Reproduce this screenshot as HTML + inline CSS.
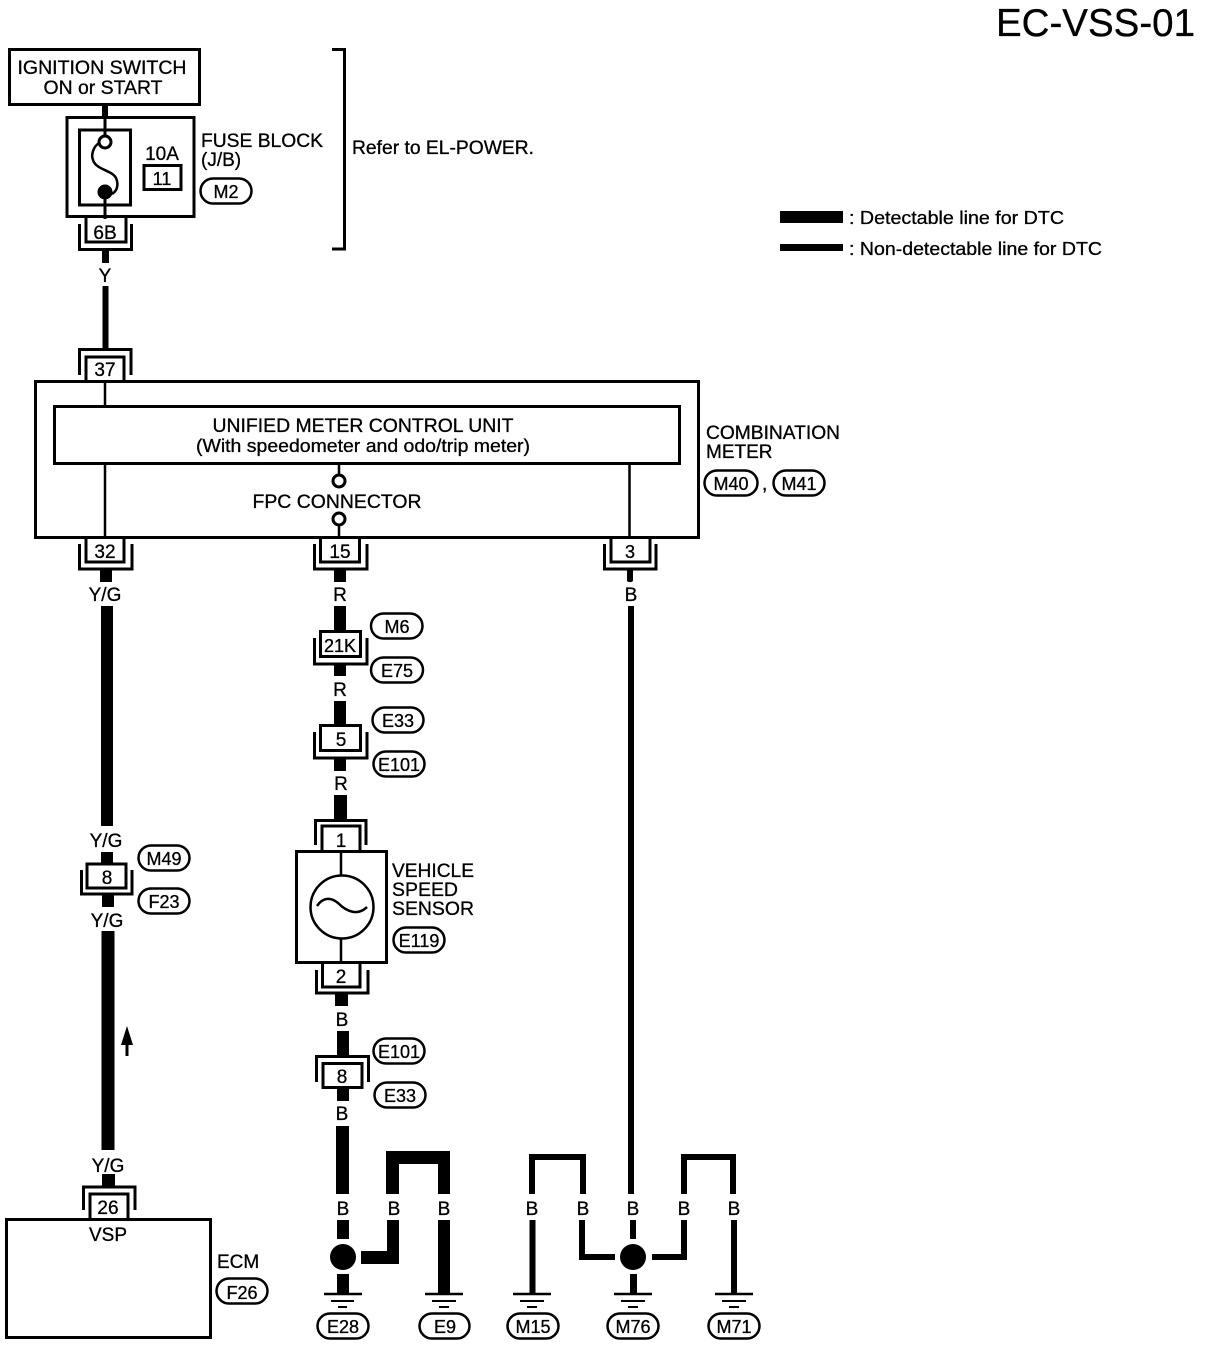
<!DOCTYPE html>
<html>
<head>
<meta charset="utf-8">
<style>
html,body{margin:0;padding:0;background:#fff;}
svg{display:block;}
text{font-family:"Liberation Sans",sans-serif;font-size:19px;fill:#000;stroke:#000;stroke-width:.3px;}
.m{text-anchor:middle;}
.s{font-size:18px;}
.b{fill:none;stroke:#000;stroke-width:3;}
.t{fill:none;stroke:#000;stroke-width:2.5;}
.w{fill:#fff;stroke:#000;stroke-width:3;}
.p{fill:#fff;stroke:#000;stroke-width:2.5;}
</style>
</head>
<body>
<svg width="1216" height="1346" viewBox="0 0 1216 1346" xmlns="http://www.w3.org/2000/svg">
<text x="996" y="36" style="font-size:38.5px" textLength="199" lengthAdjust="spacingAndGlyphs">EC-VSS-01</text>

<!-- Ignition -->
<rect class="b" x="9.5" y="49.5" width="190" height="55"/>
<text x="102" y="74" class="m" textLength="169" lengthAdjust="spacingAndGlyphs">IGNITION SWITCH</text>
<text x="103" y="94" class="m" textLength="119" lengthAdjust="spacingAndGlyphs">ON or START</text>
<rect x="102" y="104" width="6" height="14"/>
<rect x="103.500" y="118" width="3" height="18"/>

<!-- Fuse block -->
<rect class="b" x="67" y="117.500" width="127" height="99"/>
<rect class="b" x="79.500" y="130" width="51" height="75"/>
<circle class="w" cx="105" cy="142" r="6"/>
<circle cx="105" cy="192" r="7.500"/>
<path class="t" d="M99 143C93 147 91 155 93 160C96 170 112 170 116 178C119 185 117 191 112 194"/>
<rect x="103.500" y="199" width="3" height="20"/>
<text x="162" y="160" class="m">10A</text>
<rect class="b" x="144" y="165.500" width="37" height="24"/>
<text x="162" y="185" class="m s">11</text>
<text x="201" y="147" textLength="122" lengthAdjust="spacingAndGlyphs">FUSE BLOCK</text>
<text x="201" y="166">(J/B)</text>
<rect class="p" x="200.500" y="178.500" width="51" height="25" rx="12.500"/>
<text x="226" y="198" class="m s">M2</text>

<!-- Bracket -->
<path class="b" d="M332 49.500H344.500V249H332"/>
<text x="352" y="154" textLength="182" lengthAdjust="spacingAndGlyphs">Refer to EL-POWER.</text>

<!-- 6B -->
<path class="b" d="M86 217V242H126V217"/>
<path class="b" d="M79.500 224V249.500H131.500V224"/>
<text x="105" y="239" class="m">6B</text>
<rect x="102" y="250" width="7" height="13"/>
<text x="105" y="282" class="m">Y</text>
<rect x="102.500" y="286" width="6" height="64"/>

<!-- 37 -->
<path class="b" d="M79.500 375V349.500H131V375"/>
<path class="b" d="M86 381V357H124V381"/>
<text x="105" y="376" class="m">37</text>

<!-- Combination meter -->
<rect class="b" x="35.500" y="381.500" width="663" height="156"/>
<rect class="w" x="54.500" y="406.500" width="625" height="57"/>
<path class="t" d="M105 382V406M105 464V537M629.500 464V537M339 464V475M339 525V537"/>
<circle class="w" cx="339" cy="481" r="6"/>
<circle class="w" cx="339" cy="519" r="6"/>
<text x="363" y="432" class="m" textLength="301" lengthAdjust="spacingAndGlyphs">UNIFIED METER CONTROL UNIT</text>
<text x="363" y="452" class="m s" textLength="334" lengthAdjust="spacingAndGlyphs">(With speedometer and odo/trip meter)</text>
<text x="337" y="508" class="m" textLength="169" lengthAdjust="spacingAndGlyphs">FPC CONNECTOR</text>
<text x="706" y="439" textLength="134" lengthAdjust="spacingAndGlyphs">COMBINATION</text>
<text x="706" y="458">METER</text>
<rect class="p" x="704.500" y="470.500" width="53" height="25" rx="12.500"/>
<text x="731" y="490" class="m s">M40</text>
<text x="762" y="490">,</text>
<rect class="p" x="773.500" y="470.500" width="51" height="25" rx="12.500"/>
<text x="799" y="490" class="m s">M41</text>

<!-- Legend -->
<rect x="780" y="211" width="63" height="12"/>
<text x="849" y="224" class="s" textLength="215" lengthAdjust="spacingAndGlyphs">: Detectable line for DTC</text>
<rect x="780" y="244" width="63" height="7"/>
<text x="849" y="255" class="s" textLength="253" lengthAdjust="spacingAndGlyphs">: Non-detectable line for DTC</text>

<!-- 32 -->
<path class="b" d="M86 538V562H124V538"/>
<path class="b" d="M79.500 544V569H132V544"/>
<text x="105" y="558" class="m">32</text>
<rect x="100" y="569" width="12" height="13"/>
<text x="105" y="601" class="m">Y/G</text>
<rect x="101" y="606" width="12" height="220"/>
<text x="106" y="847" class="m">Y/G</text>
<rect x="101" y="852" width="12" height="12"/>
<path class="b" d="M87 888V864H126V888Z"/>
<path class="b" d="M81.500 870V894H132V870"/>
<text x="107" y="884" class="m">8</text>
<rect x="102" y="895" width="12" height="12"/>
<text x="107" y="927" class="m">Y/G</text>
<rect x="101.500" y="931" width="13" height="219"/>
<path d="M127 1026L133 1045H128.500V1056H125.500V1045H121Z"/>
<text x="108" y="1172" class="m">Y/G</text>
<rect x="102" y="1174" width="13" height="13"/>
<path class="b" d="M83.500 1210V1187H135V1210"/>
<path class="b" d="M90 1219V1194H128V1219"/>
<text x="108" y="1214" class="m">26</text>
<rect class="p" x="138.500" y="845.500" width="51" height="25" rx="12.500"/>
<text x="164" y="865" class="m s">M49</text>
<rect class="p" x="138.500" y="888.500" width="51" height="25" rx="12.500"/>
<text x="164" y="908" class="m s">F23</text>

<!-- ECM -->
<rect class="b" x="6.500" y="1219.500" width="204" height="118"/>
<text x="108" y="1241" class="m">VSP</text>
<text x="217" y="1268">ECM</text>
<rect class="p" x="216.500" y="1278.500" width="51" height="25" rx="12.500"/>
<text x="242" y="1299" class="m s">F26</text>

<!-- 15 -->
<path class="b" d="M320.500 538V562H359.500V538"/>
<path class="b" d="M314.500 544V569H367V544"/>
<text x="340" y="558" class="m">15</text>
<rect x="334" y="569" width="12" height="13"/>
<text x="340" y="601" class="m">R</text>
<rect x="334" y="606" width="12" height="25"/>
<rect class="w" x="320.500" y="631.500" width="40" height="25"/>
<path class="b" d="M314.500 638V664H367V638"/>
<text x="340" y="652" class="m s">21K</text>
<rect x="334" y="664" width="12" height="12"/>
<text x="340" y="696" class="m">R</text>
<rect x="334" y="701" width="12" height="25"/>
<rect class="w" x="320.500" y="725.500" width="40" height="25"/>
<path class="b" d="M314.500 732V758H367V732"/>
<text x="341" y="746" class="m">5</text>
<rect x="334" y="758" width="12" height="13"/>
<text x="341" y="790" class="m">R</text>
<rect x="334" y="795" width="13" height="26"/>
<rect class="p" x="371" y="613.500" width="51.500" height="25" rx="12.500"/>
<text x="397" y="633" class="m s">M6</text>
<rect class="p" x="371" y="657.500" width="52" height="25" rx="12.500"/>
<text x="397" y="677" class="m s">E75</text>
<rect class="p" x="372.500" y="707.500" width="51" height="25" rx="12.500"/>
<text x="398" y="727" class="m s">E33</text>
<rect class="p" x="373.500" y="751.500" width="51" height="25" rx="12.500"/>
<text x="399" y="771" class="m s">E101</text>

<!-- Sensor -->
<path class="b" d="M315.500 845V820.500H366V845"/>
<path class="b" d="M322 851V826H360V851"/>
<text x="341" y="847" class="m">1</text>
<rect class="b" x="296.500" y="851.500" width="90" height="111"/>
<path class="t" d="M341 852V875M341 938V962"/>
<circle class="t" cx="342" cy="907" r="31.500"/>
<path class="t" d="M317 906C323 897 331 897 338 903C347 912 358 916 367 907"/>
<text x="392" y="877" textLength="82" lengthAdjust="spacingAndGlyphs">VEHICLE</text>
<text x="392" y="896" textLength="66" lengthAdjust="spacingAndGlyphs">SPEED</text>
<text x="392" y="915" textLength="82" lengthAdjust="spacingAndGlyphs">SENSOR</text>
<rect class="p" x="393.500" y="927.500" width="51" height="25" rx="12.500"/>
<text x="419" y="947" class="m s">E119</text>
<path class="b" d="M322.500 963V987H360V963"/>
<path class="b" d="M316.500 970V993H368V970"/>
<text x="341" y="983" class="m">2</text>
<rect x="335" y="993" width="13" height="13"/>
<text x="342" y="1026" class="m">B</text>
<rect x="337" y="1031" width="12" height="26"/>
<path class="b" d="M316.500 1082V1056.500H368.500V1082"/>
<rect class="w" x="323" y="1063.500" width="39" height="24"/>
<text x="342" y="1083" class="m">8</text>
<rect x="337" y="1088" width="12" height="13"/>
<text x="342" y="1120" class="m">B</text>
<rect x="336" y="1126" width="13" height="68"/>
<rect class="p" x="373.500" y="1038.500" width="51" height="25" rx="12.500"/>
<text x="399" y="1058" class="m s">E101</text>
<rect class="p" x="374.500" y="1082.500" width="51" height="25" rx="12.500"/>
<text x="400" y="1102" class="m s">E33</text>

<!-- Ground thick group -->
<text x="343" y="1215" class="m">B</text>
<rect x="337" y="1220" width="12" height="19"/>
<circle cx="343" cy="1257" r="13"/>
<rect x="337" y="1274" width="12" height="21"/>
<path d="M386 1194V1151H450V1194H438V1164H399V1194Z"/>
<text x="394" y="1215" class="m">B</text>
<text x="444" y="1215" class="m">B</text>
<path d="M387 1220H399V1264H361V1251H387Z"/>
<rect x="438" y="1220" width="12" height="75"/>

<!-- Ground thin group -->
<path d="M529 1194V1154H586V1194H580V1160H535V1194Z"/>
<path d="M681 1194V1154H736V1194H730V1160H687V1194Z"/>
<text x="532" y="1215" class="m">B</text>
<text x="583" y="1215" class="m">B</text>
<text x="633" y="1215" class="m">B</text>
<text x="684" y="1215" class="m">B</text>
<text x="734" y="1215" class="m">B</text>
<rect x="529.500" y="1220" width="6" height="75"/>
<rect x="731" y="1220" width="6" height="75"/>
<path d="M579 1220H585V1254H615V1260H579Z"/>
<path d="M681 1220H687V1260H652V1254H681Z"/>
<circle cx="633" cy="1257" r="13"/>
<rect x="630" y="1220" width="6" height="19"/>
<rect x="630" y="1274" width="7" height="21"/>

<!-- 3 -->
<path class="b" d="M611 538V562H650V538"/>
<path class="b" d="M604.500 544V569H656V544"/>
<text x="630" y="558" class="m s">3</text>
<rect x="627" y="569" width="6" height="13" rx="2"/>
<text x="631" y="601" class="m">B</text>
<rect x="628" y="606" width="6" height="588"/>

<!-- Ground symbols -->
<g stroke="#000" fill="none">
<path stroke-width="2.500" d="M324 1294H362M425 1294H463M513 1294H551M614 1294H652M715 1294H753"/>
<path stroke-width="2" d="M331 1301H354M432 1301H456M520 1301H544M621 1301H645M722 1301H746"/>
<path stroke-width="2" d="M338 1307H347M439 1307H449M527 1307H537M628 1307H638M729 1307H739"/>
</g>
<rect class="p" x="317.500" y="1313.500" width="51" height="25" rx="12.500"/>
<text x="343" y="1333" class="m s">E28</text>
<rect class="p" x="419.500" y="1313.500" width="50" height="25" rx="12.500"/>
<text x="445" y="1333" class="m s">E9</text>
<rect class="p" x="507.500" y="1313.500" width="51" height="25" rx="12.500"/>
<text x="533" y="1333" class="m s">M15</text>
<rect class="p" x="607.500" y="1313.500" width="51" height="25" rx="12.500"/>
<text x="633" y="1333" class="m s">M76</text>
<rect class="p" x="708.500" y="1313.500" width="51" height="25" rx="12.500"/>
<text x="734" y="1333" class="m s">M71</text>
</svg>
</body>
</html>
